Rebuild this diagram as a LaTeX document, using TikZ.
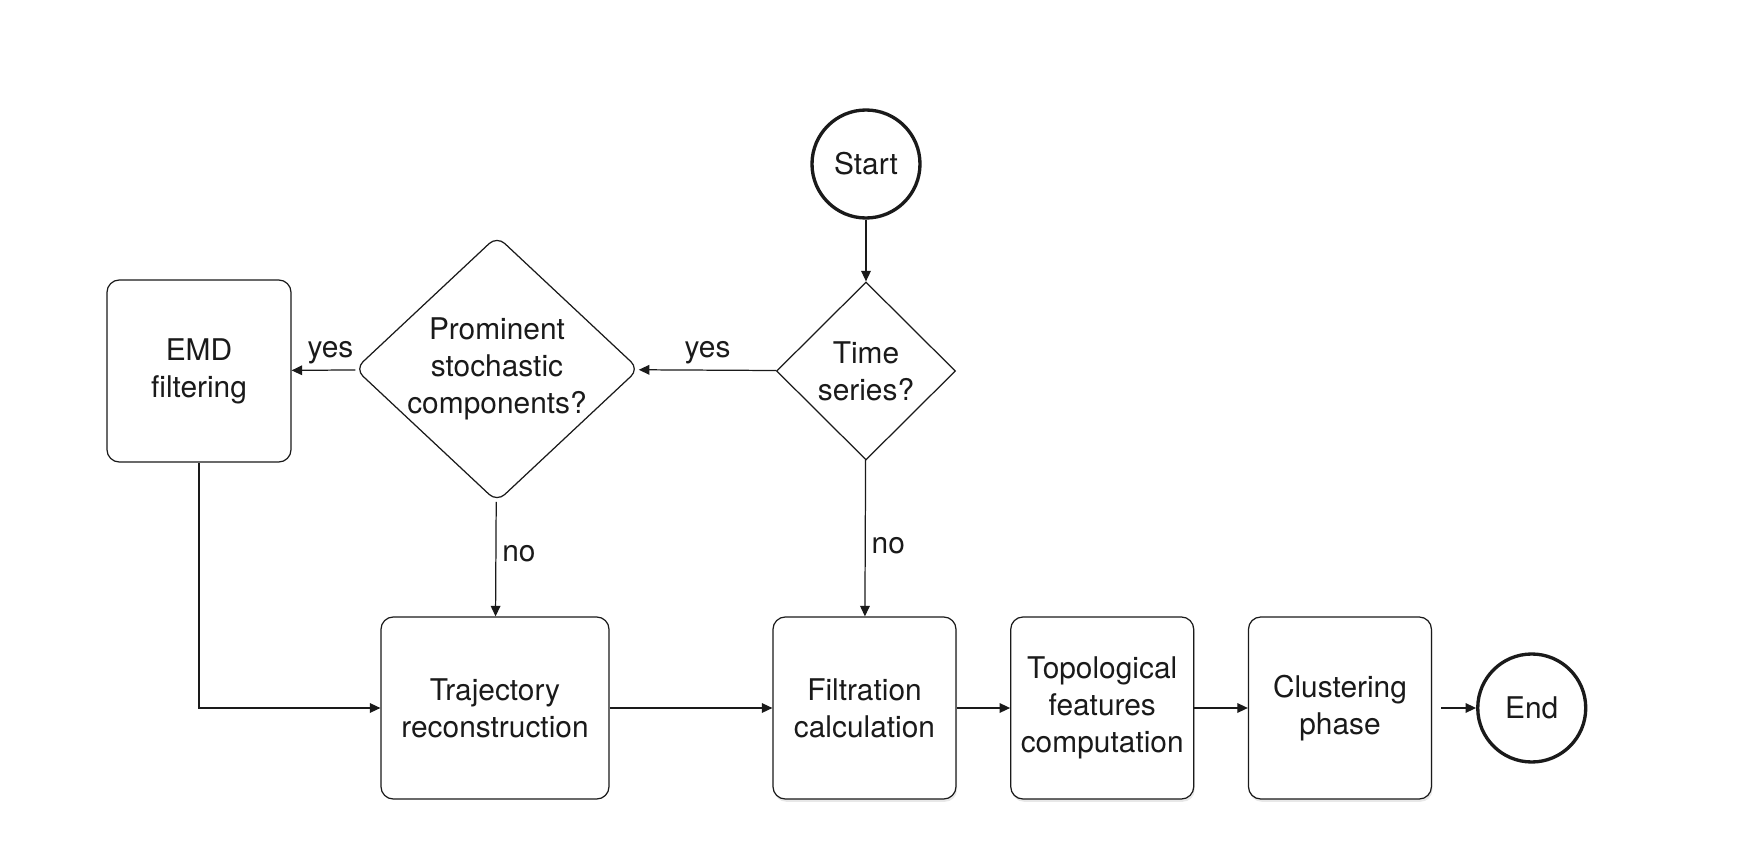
\documentclass[tikz,border=0pt]{standalone}
\usepackage{fontspec}
\setmainfont{TeX Gyre Heros}
\usetikzlibrary{arrows.meta, positioning, shapes.geometric, shadows}
\definecolor{fcline}{HTML}{1A1A1A}

\begin{document}
\begin{tikzpicture}[
    every node/.style={font=\fontsize{17}{21}\selectfont, text=fcline},
    process/.style={rectangle, rounded corners=7pt, draw=fcline, fill=white,
                    minimum width=3.66cm, minimum height=3.64cm, align=center,
                    line width=0.7pt},
    shadowed/.style={drop shadow={opacity=0.18, shadow xshift=0.6pt, shadow yshift=-1.6pt}},
    decision/.style={diamond, draw=fcline, fill=white, inner sep=0pt, align=center,
                     line width=0.7pt},
    terminal/.style={circle, draw=fcline, fill=white, line width=1.9pt,
                     minimum size=2.16cm, inner sep=0pt},
    arrow/.style={-{Triangle[length=6pt, width=5.5pt]}, line width=0.7pt, fcline}
  ]
    \useasboundingbox (0,0) rectangle (35,16.96);

    \node[terminal] (start) at (17.32,13.68) {Start};
    \node[decision, minimum width=3.58cm, minimum height=3.56cm] (series) at (17.32,9.54) {Time\\series?};
    \node[decision, rounded corners=6pt, minimum width=5.68cm, minimum height=5.32cm,
          label={[name=stochtext, align=center]center:Prominent\\stochastic\\components?}] (stoch) at (9.94,9.58) {};
    \node[process, minimum width=3.68cm] (emd) at (3.98,9.54) {EMD\\filtering};

    \node[process, minimum width=4.56cm] (traj) at (9.90,2.80) {Trajectory\\reconstruction};
    \node[process, shadowed] (filt) at (17.29,2.80) {Filtration\\calculation};
    \node[process, shadowed, right=1.07cm of filt] (topo) {Topological\\features\\computation};
    \node[process, shadowed, right=1.07cm of topo] (clust) {Clustering\\phase};
    \node[terminal, right=0.88cm of clust] (end) {End};

    \draw[arrow] (start) -- (series);
    \draw[arrow] (series) -- node[above] (yesright) {yes} (stoch);
    \draw[arrow] (stoch) -- node[above, xshift=4pt] (yesleft) {yes} (emd);
    \draw[arrow] (stoch) -- node[right, pos=0.45] (noleft) {no} (traj);
    \draw[arrow] (series) -- node[right, pos=0.55] (noright) {no} (filt);
    \draw[arrow] (emd.south) |- (traj.west);
    \draw[arrow] (traj) -- (filt);
    \draw[arrow] (filt) -- (topo);
    \draw[arrow] (topo) -- (clust);
    \draw[arrow, shorten <=0.18cm] (clust) -- (end);
  \end{tikzpicture}
\end{document}
